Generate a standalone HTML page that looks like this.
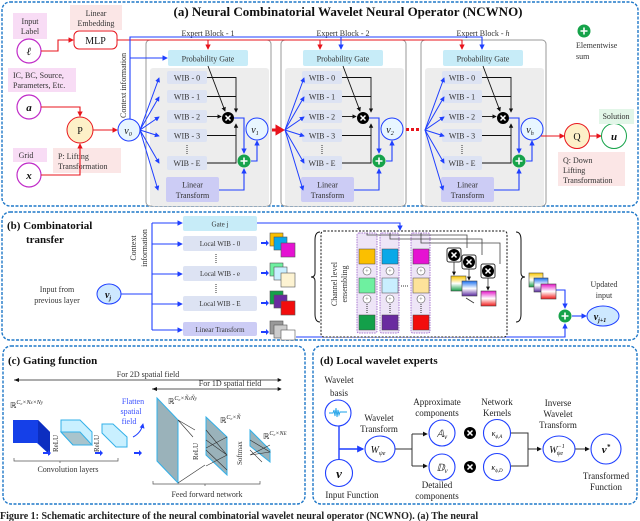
<!DOCTYPE html>
<html><head><meta charset="utf-8"><style>
html,body{margin:0;padding:0;background:#fff;}
svg{display:block;font-family:"Liberation Serif",serif;}
.t{font-size:8px;fill:#333;}
.m{font-size:9px;fill:#222;}
</style></head><body>
<svg width="640" height="521" viewBox="0 0 640 521" xmlns="http://www.w3.org/2000/svg">
<defs>
<marker id="ab" viewBox="0 0 6 6" refX="5" refY="3" markerWidth="5" markerHeight="5" orient="auto"><path d="M0,0L6,3L0,6z" fill="#1f3fff"/></marker>
<marker id="ar" viewBox="0 0 6 6" refX="5" refY="3" markerWidth="5" markerHeight="5" orient="auto"><path d="M0,0L6,3L0,6z" fill="#e8141c"/></marker>
<marker id="ak" viewBox="0 0 6 6" refX="5" refY="3" markerWidth="5" markerHeight="5" orient="auto"><path d="M0,0L6,3L0,6z" fill="#111"/></marker>
<g id="otimes"><circle r="6" fill="#000"/><path d="M-2.5,-2.5L2.5,2.5M2.5,-2.5L-2.5,2.5" stroke="#fff" stroke-width="1.5"/></g>
<g id="oplus"><circle r="6.5" fill="#16a34a"/><path d="M-3.5,0H3.5M0,-3.5V3.5" stroke="#fff" stroke-width="1.6"/></g>
<g id="block">
 <rect x="0" y="40" width="125" height="166" rx="4" fill="#fff" stroke="#999"/>
 <rect x="4" y="68" width="119" height="138" rx="3" fill="#ededed"/>
 <rect x="22" y="50" width="80" height="16" rx="2" fill="#c7ecf8"/>
 <text x="62" y="61.5" text-anchor="middle" class="t">Probability Gate</text>
 <g fill="#dde3f3"><rect x="21" y="71" width="40" height="13" rx="2"/><rect x="21" y="90" width="40" height="13" rx="2"/><rect x="21" y="110" width="40" height="13" rx="2"/><rect x="21" y="129" width="40" height="13" rx="2"/><rect x="21" y="156" width="40" height="14" rx="2"/></g>
 <g class="t" text-anchor="middle"><text x="41" y="80.5">WIB - 0</text><text x="41" y="99.5">WIB - 1</text><text x="41" y="119.5">WIB - 2</text><text x="41" y="138.5">WIB - 3</text><text x="41" y="166">WIB - E</text></g>
 <line x1="41" y1="145" x2="41" y2="155" stroke="#333" stroke-dasharray="1,1"/>
 <rect x="20" y="177" width="53" height="25" rx="2" fill="#ccccf5"/>
 <text x="46.5" y="187.5" text-anchor="middle" class="t">Linear</text><text x="46.5" y="198" text-anchor="middle" class="t">Transform</text>
 <g stroke="#111" fill="none" stroke-width="0.9">
  <path d="M61,77.5H90V112" marker-end="url(#ak)"/><path d="M61,96.5H90"/><path d="M61,116.5H75" marker-end="url(#ak)"/>
  <path d="M61,135.5H90V124" marker-end="url(#ak)"/><path d="M61,163H90V135"/><path d="M62,66L79,111" marker-end="url(#ak)"/>
 </g>
 <use href="#otimes" x="82" y="118"/>
 <g stroke="#1f3fff" fill="none" stroke-width="1.1">
  <path d="M88,118H98V153" marker-end="url(#ab)"/><path d="M73,190H98V169" marker-end="url(#ab)"/><path d="M105,161H111V141" marker-end="url(#ab)"/>
 </g>
 <use href="#oplus" x="98" y="161"/>
 <circle cx="111" cy="129" r="11" fill="#e8f6ff" stroke="#1f3fff"/>
</g>
<g id="fan" stroke="#1f3fff" fill="none" stroke-width="1">
 <line x1="0" y1="0" x2="19" y2="-52" marker-end="url(#ab)"/><line x1="0" y1="0" x2="19" y2="-33" marker-end="url(#ab)"/>
 <line x1="0" y1="0" x2="19" y2="-13" marker-end="url(#ab)"/><line x1="0" y1="0" x2="19" y2="6" marker-end="url(#ab)"/>
 <line x1="0" y1="0" x2="19" y2="33" marker-end="url(#ab)"/><line x1="0" y1="0" x2="18" y2="60" marker-end="url(#ab)"/>
</g>
<linearGradient id="g1" x1="0" y1="0" x2="0" y2="1"><stop offset="0" stop-color="#fbc800"/><stop offset="0.5" stop-color="#fff"/><stop offset="1" stop-color="#16a048"/></linearGradient>
<linearGradient id="g2" x1="0" y1="0" x2="0" y2="1"><stop offset="0" stop-color="#1a6ff0"/><stop offset="0.5" stop-color="#fff"/><stop offset="1" stop-color="#5a2aa0"/></linearGradient>
<linearGradient id="g3" x1="0" y1="0" x2="0" y2="1"><stop offset="0" stop-color="#e514c8"/><stop offset="0.5" stop-color="#fff"/><stop offset="1" stop-color="#f21a1a"/></linearGradient>
</defs>

<!-- Panel a -->
<rect x="2" y="2" width="636" height="204" rx="8" fill="#fff" stroke="#1f78c8" stroke-width="1.4" stroke-dasharray="3,1.5"/>
<text x="348" y="16" text-anchor="middle" font-size="13" font-weight="bold" fill="#111">(a) Neural Combinatorial Wavelet Neural Operator (NCWNO)</text>

<use href="#block" x="146"/><use href="#block" x="281"/><use href="#block" x="421"/>
<g class="t" text-anchor="middle"><text x="208" y="36">Expert Block - 1</text><text x="343" y="36">Expert Block - 2</text><text x="483" y="36">Expert Block - <tspan font-style="italic">h</tspan></text></g>
<use href="#fan" x="140" y="130"/><use href="#fan" x="285" y="130"/><use href="#fan" x="425" y="130"/>
<g font-style="italic" font-size="10" fill="#111" text-anchor="middle"><text x="255" y="133">v<tspan font-size="6" dy="2">1</tspan></text><text x="390" y="133">v<tspan font-size="6" dy="2">2</tspan></text><text x="530" y="133">v<tspan font-size="6" dy="2">h</tspan></text></g>

<rect x="13" y="13" width="34" height="26" fill="#f8dcf5"/><text x="30" y="24" text-anchor="middle" class="t">Input</text><text x="30" y="34" text-anchor="middle" class="t">Label</text>
<rect x="70" y="5" width="52" height="25" fill="#fbe6e6"/><text x="96" y="16" text-anchor="middle" class="t">Linear</text><text x="96" y="26" text-anchor="middle" class="t">Embedding</text>
<rect x="8" y="68" width="68" height="24" fill="#f8dcf5"/><text x="13" y="78" class="t">IC, BC, Source,</text><text x="13" y="88" class="t">Parameters, Etc.</text>
<rect x="13" y="148" width="34" height="14" fill="#f8dcf5"/><text x="26" y="158" text-anchor="middle" class="t">Grid</text>
<rect x="53" y="148" width="68" height="25" fill="#fbe6e6"/><text x="58" y="159" class="t">P: Lifting</text><text x="58" y="169" class="t">Transformation</text>
<g fill="#fff" stroke="#c02bc8" stroke-width="1.2"><circle cx="29" cy="51" r="12"/><circle cx="29" cy="107" r="12"/><circle cx="29" cy="175" r="12"/></g>
<g font-weight="bold" font-style="italic" font-size="11" fill="#111" text-anchor="middle"><text x="29" y="55">ℓ</text><text x="29" y="111">a</text><text x="29" y="179">x</text></g>
<rect x="74" y="31" width="43" height="18" rx="5" fill="#fff" stroke="#e8141c"/><text x="95.5" y="44" text-anchor="middle" font-size="10" fill="#111">MLP</text>
<circle cx="80" cy="130" r="13" fill="#fdf0c8" stroke="#e8141c"/><text x="80" y="134" text-anchor="middle" font-size="10" fill="#111">P</text>
<g stroke="#e8141c" fill="none" stroke-width="1.1">
 <path d="M41,51H58V40H73" marker-end="url(#ar)"/><path d="M41,107H80V116" marker-end="url(#ar)"/><path d="M41,175H80V144" marker-end="url(#ar)"/>
 <path d="M93,130H117" marker-end="url(#ar)"/>
 <path d="M117,40H462V49" marker-end="url(#ar)"/><path d="M208,40V49" marker-end="url(#ar)"/><path d="M320,40V49" marker-end="url(#ar)"/>
 <path d="M541,136H564" marker-end="url(#ar)"/><path d="M590,136H601" marker-end="url(#ar)"/>
</g>
<path d="M272,130h5v-3l5,3l-5,3v-3" fill="#e8141c" stroke="#e8141c" stroke-width="3"/>
<g fill="#e8141c"><rect x="406" y="128" width="3" height="3"/><rect x="411" y="128" width="3" height="3"/><rect x="416" y="128" width="3" height="3"/></g>
<g stroke="#1f3fff" fill="none" stroke-width="1.1">
 <path d="M130,119V37H482V49" marker-end="url(#ab)"/><path d="M341,37V49" marker-end="url(#ab)"/><path d="M130,58H167" marker-end="url(#ab)"/>
</g>
<text transform="translate(126,118) rotate(-90)" class="t">Context information</text>
<circle cx="129" cy="130" r="11" fill="#e8f6ff" stroke="#1f3fff"/><text x="128" y="134" text-anchor="middle" font-size="10" font-style="italic" fill="#111">v<tspan font-size="6" dy="2">0</tspan></text>
<circle cx="577" cy="136" r="12.5" fill="#fdf0c8" stroke="#e8141c"/><text x="577" y="140" text-anchor="middle" font-size="10" fill="#111">Q</text>
<circle cx="614" cy="136" r="12.5" fill="#fff" stroke="#16a34a"/><text x="614" y="140" text-anchor="middle" font-size="11" font-weight="bold" font-style="italic" fill="#111">u</text>
<rect x="599" y="109" width="35" height="15" fill="#e2f6e8"/><text x="616" y="119" text-anchor="middle" class="t">Solution</text>
<rect x="558" y="152" width="67" height="34" fill="#fbe6e6"/><text x="563" y="163" class="t">Q: Down</text><text x="563" y="173" class="t">Lifting</text><text x="563" y="183" class="t">Transformation</text>
<use href="#oplus" x="584" y="31"/><text x="576" y="48" class="t">Elementwise</text><text x="576" y="59" class="t">sum</text>

<!-- Panel b -->
<rect x="2" y="212" width="636" height="128" rx="8" fill="#fff" stroke="#1f78c8" stroke-width="1.4" stroke-dasharray="3,1.5"/>
<text x="7" y="229" font-size="11" font-weight="bold" fill="#111">(b) Combinatorial</text><text x="26" y="243" font-size="11" font-weight="bold" fill="#111">transfer</text>
<text x="57" y="292" text-anchor="middle" class="t">Input from</text><text x="57" y="303" text-anchor="middle" class="t">previous layer</text>
<g stroke="#1f3fff" fill="none" stroke-width="1.1">
 <path d="M121,294H152"/><path d="M152,223V330"/>
 <path d="M152,223H182" marker-end="url(#ab)"/><path d="M152,244H182" marker-end="url(#ab)"/><path d="M152,274H182" marker-end="url(#ab)"/><path d="M152,304H182" marker-end="url(#ab)"/><path d="M152,330H182" marker-end="url(#ab)"/>
 <path d="M257,223H400V230" marker-end="url(#ab)"/>
 <path d="M296,337H565V324" marker-end="url(#ab)"/><path d="M555,290H565V308" marker-end="url(#ab)"/><path d="M572,316H586" marker-end="url(#ab)"/>
</g>
<ellipse cx="109" cy="294" rx="12" ry="10" fill="#cde8ff" stroke="#1f3fff"/><text x="108" y="298" text-anchor="middle" font-size="10" font-weight="bold" font-style="italic" fill="#111">v<tspan font-size="6" dy="2">j</tspan></text>
<text transform="translate(136,248) rotate(-90)" class="t" text-anchor="middle">Context</text>
<text transform="translate(147,248) rotate(-90)" class="t" text-anchor="middle">information</text>
<rect x="183" y="216" width="74" height="15" rx="2" fill="#c7ecf8"/><text x="220" y="226.5" text-anchor="middle" font-size="7" fill="#333">Gate j</text>
<g fill="#dde3f3"><rect x="183" y="236" width="74" height="15" rx="2"/><rect x="183" y="266" width="74" height="15" rx="2"/><rect x="183" y="296" width="74" height="15" rx="2"/></g>
<rect x="183" y="322" width="74" height="14" rx="2" fill="#ccccf5"/>
<g font-size="7" fill="#333" text-anchor="middle"><text x="220" y="246">Local WIB - 0</text><text x="220" y="276">Local WIB - e</text><text x="220" y="306">Local WIB - E</text><text x="220" y="332">Linear Transform</text></g>
<g stroke="#333" stroke-dasharray="1,1"><line x1="216" y1="254" x2="216" y2="263"/><line x1="216" y1="284" x2="216" y2="293"/></g>
<g fill="#1f3fff"><path d="M261,242h5v-2l3,3l-3,3v-2h-5z"/><path d="M261,272h5v-2l3,3l-3,3v-2h-5z"/><path d="M261,302h5v-2l3,3l-3,3v-2h-5z"/><path d="M261,331h5v-2l3,3l-3,3v-2h-5z"/></g>
<g stroke="#555" stroke-width="0.6">
 <rect x="270" y="233" width="13" height="13" fill="#fbbf00"/><rect x="274" y="237" width="13" height="13" fill="#0aa8e8"/><rect x="281" y="243" width="14" height="14" fill="#e512d2"/>
 <rect x="270" y="263" width="13" height="13" fill="#6ef0a0"/><rect x="274" y="267" width="13" height="13" fill="#c9efff"/><rect x="281" y="273" width="14" height="14" fill="#fdf3d2"/>
 <rect x="270" y="291" width="13" height="13" fill="#13a04a"/><rect x="274" y="295" width="13" height="13" fill="#6a2aa0"/><rect x="281" y="301" width="14" height="14" fill="#f20d0d"/>
 <rect x="270" y="321" width="13" height="13" fill="#999"/><rect x="274" y="325" width="13" height="13" fill="#ccc"/><rect x="281" y="330" width="14" height="10" fill="#fff"/>
</g>
<path d="M320,232q-5,0-5,8v33q0,4-4,4q4,0,4,4v33q0,8,5,8" fill="none" stroke="#111"/>
<path d="M516,232q5,0,5,8v33q0,4,4,4q-4,0-4,4v33q0,8-5,8" fill="none" stroke="#111"/>
<rect x="321" y="231" width="186" height="106" rx="3" fill="#fff" stroke="#111" stroke-dasharray="2,1.5"/>
<text transform="translate(337,284) rotate(-90)" font-size="8" fill="#333" text-anchor="middle"><tspan x="0" y="0">Channel level</tspan><tspan x="0" y="10">ensembling</tspan></text>
<g fill="#eee5f7" stroke="#a878d0" stroke-dasharray="1.5,1"><rect x="357" y="233" width="20" height="100" rx="2"/><rect x="380" y="233" width="19" height="100" rx="2"/><rect x="411" y="233" width="19" height="100" rx="2"/></g>
<g stroke="#444" stroke-width="0.5">
<rect x="359" y="249" width="16" height="15" fill="#fbbf00"/><rect x="359" y="278" width="16" height="15" fill="#6ef0a0"/><rect x="359" y="315" width="16" height="15" fill="#13a04a"/>
<rect x="382" y="249" width="16" height="15" fill="#0aa8e8"/><rect x="382" y="278" width="16" height="15" fill="#c9efff"/><rect x="382" y="315" width="16" height="15" fill="#6a2aa0"/>
<rect x="413" y="249" width="16" height="15" fill="#e512d2"/><rect x="413" y="278" width="16" height="15" fill="#fde39a"/><rect x="413" y="315" width="16" height="15" fill="#f20d0d"/>
</g>
<g fill="#fff" stroke="#555" stroke-width="0.6"><circle cx="367" cy="271" r="4"/><circle cx="367" cy="299" r="4"/><circle cx="390" cy="271" r="4"/><circle cx="390" cy="299" r="4"/><circle cx="421" cy="271" r="4"/><circle cx="421" cy="299" r="4"/></g>
<g font-size="6" fill="#555" text-anchor="middle"><text x="367" y="273">+</text><text x="367" y="301">+</text><text x="390" y="273">+</text><text x="390" y="301">+</text><text x="421" y="273">+</text><text x="421" y="301">+</text></g>
<g stroke="#333" stroke-dasharray="1,1"><line x1="367" y1="304" x2="367" y2="313"/><line x1="390" y1="304" x2="390" y2="313"/><line x1="421" y1="304" x2="421" y2="313"/><line x1="401" y1="286" x2="409" y2="286"/></g>
<g stroke="#444" fill="none" stroke-width="0.8"><path d="M367,233V235H467V248"/><path d="M390,233V239H482V255"/><path d="M421,233V243H500V264"/></g>
<g fill="#fff" stroke="#333"><rect x="447" y="248" width="14" height="14" rx="2"/><rect x="462" y="255" width="14" height="14" rx="2"/><rect x="481" y="264" width="14" height="14" rx="2"/></g>
<use href="#otimes" x="454" y="255"/><use href="#otimes" x="469" y="262"/><use href="#otimes" x="488" y="271"/>
<g stroke="#333" stroke-width="0.8" fill="none"><path d="M454,262V275" marker-end="url(#ak)"/><path d="M469,269V280" marker-end="url(#ak)"/><path d="M488,278V290" marker-end="url(#ak)"/><path d="M466,298L474,303"/></g>
<g stroke="#444" stroke-width="0.6"><rect x="451" y="276" width="15" height="15" fill="url(#g1)"/><rect x="462" y="281" width="15" height="15" fill="url(#g2)"/><rect x="481" y="291" width="15" height="15" fill="url(#g3)"/>
<rect x="529" y="273" width="14" height="14" fill="url(#g1)"/><rect x="534" y="278" width="14" height="14" fill="url(#g2)"/><rect x="541" y="284" width="15" height="15" fill="url(#g3)"/></g>
<use href="#oplus" x="565" y="316"/>
<text x="604" y="287" text-anchor="middle" class="t">Updated</text><text x="604" y="298" text-anchor="middle" class="t">input</text>
<ellipse cx="603" cy="316" rx="16" ry="10" fill="#cde8ff" stroke="#1f3fff"/><text x="600" y="320" text-anchor="middle" font-size="10" font-weight="bold" font-style="italic" fill="#111">v<tspan font-size="6" dy="2">j+1</tspan></text>

<!-- Panel c -->
<rect x="3" y="346" width="302" height="158" rx="8" fill="#fff" stroke="#1f78c8" stroke-width="1.4" stroke-dasharray="3,1.5"/>
<text x="8" y="364" font-size="11" font-weight="bold" fill="#111">(c) Gating function</text>
<g stroke="#222" stroke-width="0.8" fill="none"><path d="M14,380H281" marker-end="url(#ak)"/><path d="M152,389H281" marker-end="url(#ak)"/></g>
<path d="M14,380l5,-2v4z M152,389l5,-2v4z" fill="#111"/>
<text x="148" y="377" text-anchor="middle" class="t">For 2D spatial field</text><text x="230" y="386" text-anchor="middle" class="t">For 1D spatial field</text>
<text x="10" y="408" font-size="8" fill="#222">ℝ<tspan font-size="6" dy="-4" font-style="italic">C₀×N<tspan font-size="5">x</tspan>×N<tspan font-size="5">y</tspan></tspan></text>
<polygon points="13,420 38,420 50,432 50,455 37,443 13,443" fill="#1540e8"/><polygon points="38,420 50,432 50,455 38,443" fill="#0c2ec0"/>
<polygon points="61,420 80,420 92,432 92,445 73,445 61,432" fill="#c9f0ff" stroke="#33b0e8"/><polygon points="73,445 61,432 80,432 92,445" fill="#a9c4cc" stroke="#33b0e8"/>
<polygon points="102,424 113,424 127,437 127,447 116,447 102,433" fill="#c9f0ff" stroke="#33b0e8"/>
<g font-size="7" fill="#333"><text transform="translate(58,452) rotate(-90)">ReLU</text><text transform="translate(99,452) rotate(-90)">ReLU</text></g>
<g fill="#1f3fff"><path d="M43,452h5v-2l3,3l-3,3v-2h-5z"/><path d="M95,452h5v-2l3,3l-3,3v-2h-5z"/><path d="M134,452h5v-2l3,3l-3,3v-2h-5z"/></g>
<text x="133" y="404" text-anchor="middle" font-size="8" fill="#3a50ff">Flatten</text><text x="131" y="414" text-anchor="middle" font-size="8" fill="#3a50ff">spatial</text><text x="129" y="424" text-anchor="middle" font-size="8" fill="#3a50ff">field</text>
<path d="M133,437q8,-4 10,-13" stroke="#1f3fff" fill="none" marker-end="url(#ab)"/>
<path d="M14,458v3h46v2m0-2h58v-3" fill="none" stroke="#555" stroke-width="0.7"/>
<text x="68" y="472" text-anchor="middle" font-size="8" fill="#333">Convolution layers</text>
<polygon points="157,398 178,420 178,483 157,461" fill="#9ab2ba" stroke="#33b0e8"/>
<polygon points="206,417 227,437 227,475 206,455" fill="#9ab2ba" stroke="#33b0e8"/>
<polygon points="250,430 270,450 270,462 250,446" fill="#9ab2ba" stroke="#33b0e8"/>
<g stroke="#333" stroke-width="0.6" fill="none"><path d="M178,420L195,430M178,420L193,437M178,483L205,465"/><path d="M206,430L227,455L206,466M206,448L227,437M227,470L206,450M227,455L206,440"/><path d="M250,440L270,452L250,455L270,445M250,450L262,462"/></g>
<text x="168" y="404" font-size="8" fill="#222">ℝ<tspan font-size="6" dy="-4" font-style="italic">C₀×Ñ<tspan font-size="5">x</tspan>Ñ<tspan font-size="5">y</tspan></tspan></text>
<text x="220" y="423" font-size="8" fill="#222">ℝ<tspan font-size="6" dy="-4" font-style="italic">C₀×Ñ</tspan></text>
<text x="263" y="439" font-size="8" fill="#222">ℝ<tspan font-size="6" dy="-4" font-style="italic">C₀×N<tspan font-size="5">E</tspan></tspan></text>
<g font-size="7" fill="#333"><text transform="translate(198,460) rotate(-90)">ReLU</text><text transform="translate(242,465) rotate(-90)">Softmax</text></g>
<path d="M153,481v3h52v2m0-2h55v-3" fill="none" stroke="#555" stroke-width="0.7"/>
<text x="207" y="497" text-anchor="middle" font-size="8" fill="#333">Feed forward network</text>

<!-- Panel d -->
<rect x="313" y="346" width="324" height="158" rx="8" fill="#fff" stroke="#1f78c8" stroke-width="1.4" stroke-dasharray="3,1.5"/>
<text x="320" y="364" font-size="11" font-weight="bold" fill="#111">(d) Local wavelet experts</text>
<g class="m" text-anchor="middle"><text x="339" y="383">Wavelet</text><text x="339" y="396">basis</text>
<text x="352" y="498">Input Function</text>
<text x="379" y="421">Wavelet</text><text x="379" y="432">Transform</text>
<text x="437" y="405">Approximate</text><text x="437" y="416">components</text>
<text x="437" y="488">Detailed</text><text x="437" y="499">components</text>
<text x="497" y="405">Network</text><text x="497" y="416">Kernels</text>
<text x="558" y="406">Inverse</text><text x="558" y="417">Wavelet</text><text x="558" y="428">Transform</text>
<text x="606" y="479">Transformed</text><text x="606" y="490">Function</text></g>
<g stroke="#1f3fff" fill="none" stroke-width="1.4"><path d="M339,426V460"/><path d="M339,449H363" marker-end="url(#ab)"/></g>
<g stroke="#333" fill="none" stroke-width="1"><path d="M395,449H412M412,434V466"/><path d="M412,434H427" marker-end="url(#ak)"/><path d="M412,466H427" marker-end="url(#ak)"/>
<path d="M511,433H528V466H511"/><path d="M528,449H541" marker-end="url(#ak)"/><path d="M575,449H589" marker-end="url(#ak)"/></g>
<g fill="#fff" stroke="#1f3fff" stroke-width="1.1">
<circle cx="338" cy="413" r="13"/><circle cx="339" cy="473" r="13.5"/><ellipse cx="380" cy="449" rx="15" ry="13"/>
<circle cx="442" cy="433" r="13"/><circle cx="442" cy="467" r="13"/><circle cx="497" cy="433" r="13.5"/><circle cx="497" cy="467" r="13.5"/>
<ellipse cx="559" cy="449" rx="16" ry="13"/><circle cx="606" cy="449" r="15"/></g>
<path d="M329,413h4l1,-3l1,6l1,-8l1,9l1,-7l1,5l1,-3h7" fill="none" stroke="#1aa0e8" stroke-width="0.9"/>
<g font-style="italic" fill="#111" text-anchor="middle"><text x="339" y="478" font-size="13" font-weight="bold">v</text>
<text x="378" y="453" font-size="10">W<tspan font-size="6" dy="2">ψe</tspan></text>
<text x="442" y="437" font-size="10">𝔸<tspan font-size="7" dy="2">v</tspan></text><text x="442" y="471" font-size="10">𝔻<tspan font-size="7" dy="2">v</tspan></text>
<text x="497" y="436" font-size="8">κ<tspan font-size="5" dy="2">ϕ,A</tspan></text><text x="497" y="470" font-size="8">κ<tspan font-size="5" dy="2">ϕ,D</tspan></text>
<text x="557" y="453" font-size="10">W<tspan font-size="6" dy="-5">−1</tspan><tspan font-size="6" dx="-8" dy="7">ψe</tspan></text>
<text x="606" y="453" font-size="11" font-weight="bold">v<tspan font-size="7" dy="-4">*</tspan></text></g>
<use href="#otimes" x="470" y="433"/><use href="#otimes" x="470" y="467"/>

<text x="0" y="519" font-size="10" font-weight="bold" fill="#222">Figure 1: Schematic architecture of the neural combinatorial wavelet neural operator (NCWNO). (a) The neural</text>
</svg>
</body></html>
